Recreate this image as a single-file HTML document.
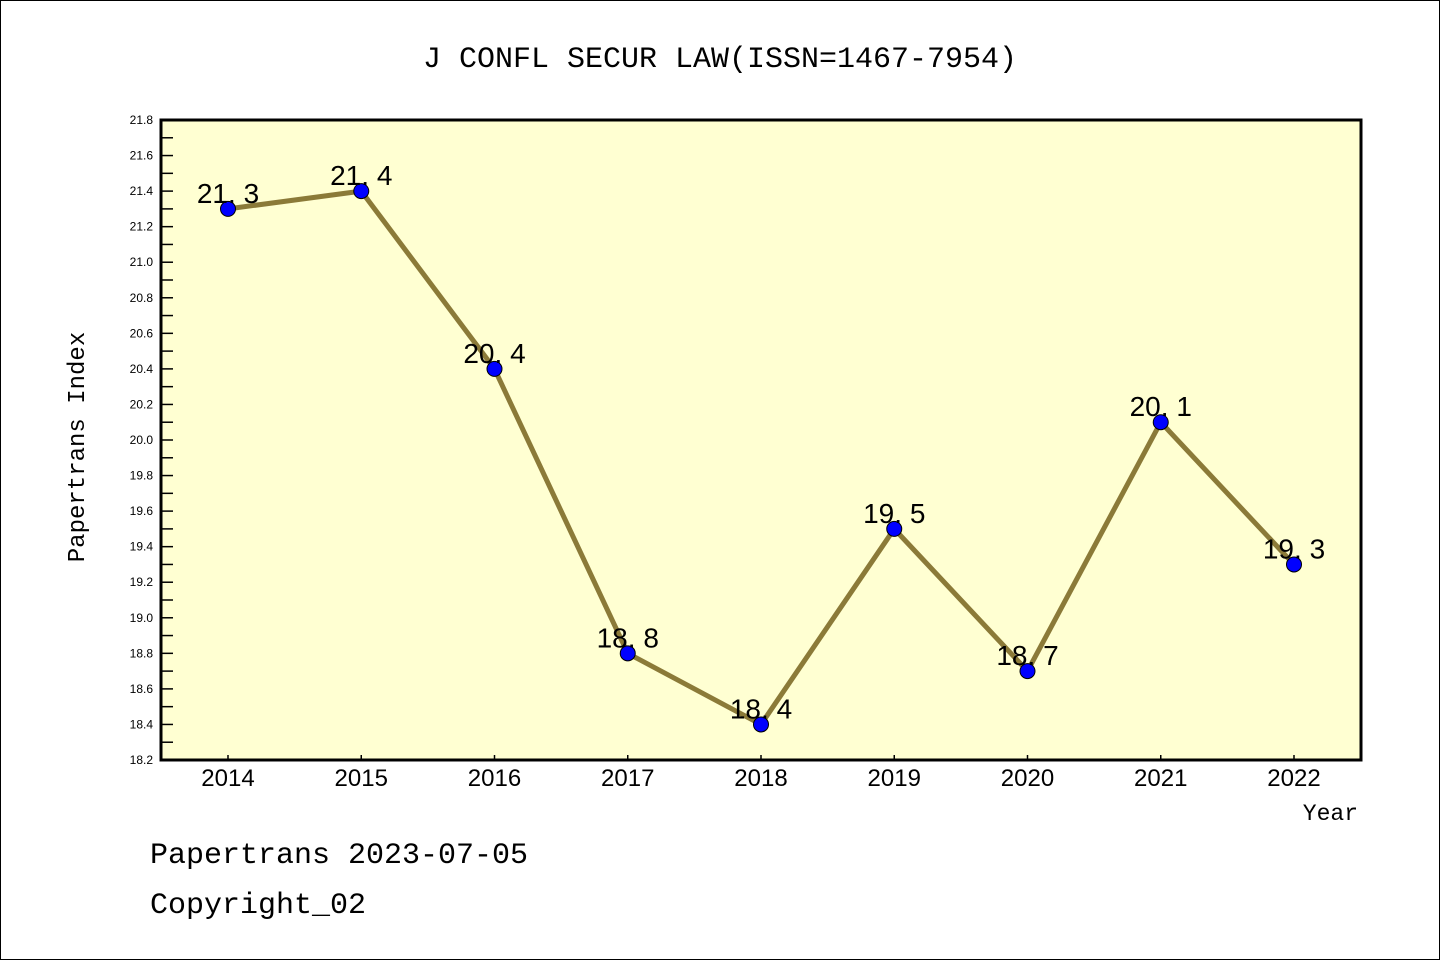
<!DOCTYPE html>
<html><head><meta charset="utf-8"><style>
body{margin:0;background:#fff}
svg{display:block;font-family:"Liberation Mono","DejaVu Sans Mono",monospace}
</style></head><body>
<svg id="c" width="1440" height="960">
<rect x="0.5" y="0.5" width="1439" height="959" fill="#fff" stroke="#000"/>
<text x="720" y="67" font-size="30" text-anchor="middle">J CONFL SECUR LAW(ISSN=1467-7954)</text>
<rect x="161" y="120" width="1200" height="640" fill="#ffffd2"/>
<g id="ticks"></g>
<g id="series"></g>
<rect x="161" y="120" width="1200" height="640" fill="none" stroke="#000" stroke-width="3"/>
<text transform="translate(84,447) rotate(-90)" font-size="24" text-anchor="middle">Papertrans Index</text>
<text x="1358" y="820" font-size="23" text-anchor="end">Year</text>
<text x="150" y="863" font-size="30">Papertrans 2023-07-05</text>
<text x="150" y="913" font-size="30">Copyright_02</text>
</svg>
<script>
const years = ['2014','2015','2016','2017','2018','2019','2020','2021','2022'];
const values = [21.3,21.4,20.4,18.8,18.4,19.5,18.7,20.1,19.3];
const labels = ['21.3','21.4','20.4','18.8','18.4','19.5','18.7','20.1','19.3'];
const yTicks = ['18.2','18.4','18.6','18.8','19.0','19.2','19.4','19.6','19.8','20.0','20.2','20.4','20.6','20.8','21.0','21.2','21.4','21.6','21.8'];
const yMin=18.2,yMax=21.8;
const NS='http://www.w3.org/2000/svg';
function ys(v){return 760-(v-yMin)/(yMax-yMin)*640;}
function xs(i){return 228+i*133.25;}
function mk(tag,attrs,parent){const e=document.createElementNS(NS,tag);for(const k in attrs)e.setAttribute(k,attrs[k]);parent.appendChild(e);return e;}
const tg=document.getElementById('ticks'),sg=document.getElementById('series');
yTicks.forEach((t,i)=>{
  const v=parseFloat(t),y=ys(v);
  const l=mk('line',{x1:161,x2:173,y1:y,y2:y,stroke:'#000','stroke-width':1.5},tg);
  
  
  const tx=mk('text',{x:153,y:y+4,'font-size':12,'text-anchor':'end','font-family':'"Liberation Sans",sans-serif'},tg);tx.textContent=t;
  
  
  if(i<yTicks.length-1){const ym=ys(v+0.1);
    const m=mk('line',{x1:161,x2:173,y1:ym,y2:ym,stroke:'#000','stroke-width':1.5},tg);
    
    }
});
years.forEach((yr,i)=>{
  const x=xs(i);
  const l=mk('line',{x1:x,x2:x,y1:755,y2:760,stroke:'#000','stroke-width':1.5},tg);
  
  
  const t=mk('text',{x:x,y:786,'font-size':24,'text-anchor':'middle','font-family':'"Liberation Sans",sans-serif'},tg);t.textContent=yr;
  
  
});
const pl=mk('polyline',{points:values.map((v,i)=>xs(i)+','+ys(v)).join(' '),fill:'none',stroke:'#8b7a38','stroke-width':5,'stroke-linejoin':'round'},sg);


values.forEach((v,i)=>{
  const c=mk('circle',{cx:xs(i),cy:ys(v),r:7.5,fill:'#0000ff',stroke:'#000','stroke-width':1},sg);
  
  
  const t=mk('text',{x:xs(i),y:ys(v)-6,'font-size':28,'text-anchor':'middle','font-family':'"Liberation Sans",sans-serif'},sg);
  t.textContent=labels[i].replace('.','. ');
  
  
});
</script>
</body></html>
